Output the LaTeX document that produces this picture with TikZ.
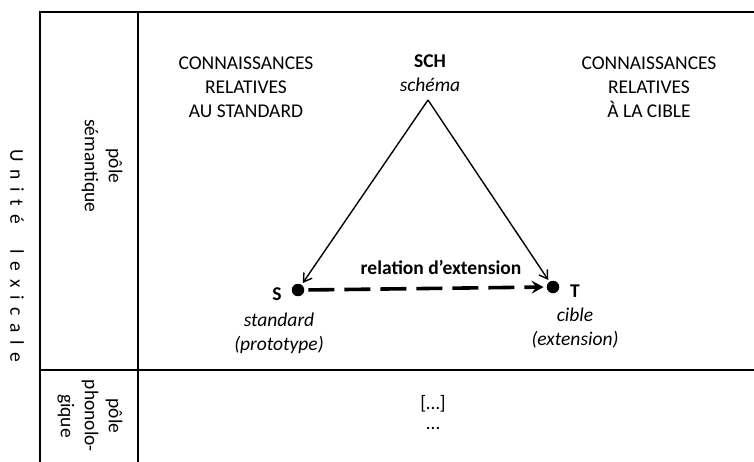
\documentclass[tikz,border=0pt]{standalone}
\usepackage{fontspec}
\setmainfont{Carlito}
\usepackage{tikz}
\usetikzlibrary{arrows.meta}

\newcommand{\lsp}{\hspace{0.4em}}

\begin{document}
\begin{tikzpicture}[x=1pt,y=-1pt,
	every node/.style={font=\fontsize{19.5}{24}\selectfont, align=center, inner sep=0pt},
	dot/.style={circle,fill=black,minimum size=12.5pt},
	frame/.style={line width=2.2pt,black},
	%every node/.style = {draw}
]
	\useasboundingbox (0,0) rectangle (754,462);

	\draw[frame] (754,12) -- (40,12) -- (40,462);
	\draw[frame] (138,12) -- (138,462);
	\draw[frame] (40,370) -- (754,370);

	\node[rotate=-90] at (17,256) (unite) {U\lsp n\lsp i\lsp t\lsp é\hspace{1.3em}l\lsp e\lsp x\lsp i\lsp c\lsp a\lsp l\lsp e};
	\node[rotate=-90] at (102,166) (semantique) {pôle\\sémantique};
	\node[rotate=-90] at (90,416) (phonologique) {pôle\\phonolo-\\gique};

	\node[] at (246,87) (standard) {CONNAISSANCES\\RELATIVES\\AU STANDARD};
	\node[] at (649,87) (cible) {CONNAISSANCES\\RELATIVES\\À LA CIBLE};

	\node[] at (430,73) (sch) {\textbf{SCH}\\\textit{schéma}};
	\coordinate (apex) at (428,100);

	\node[dot] at (298,290) (s) {};
	\node[dot] at (553,287) (t) {};
	\node[] at (277,294) (slabel) {\textbf{S}};
	\node[] at (575,291) (tlabel) {\textbf{T}};
	\node[] at (279,333) (stext) {\textit{standard}\\\textit{(prototype)}};
	\node[] at (575,328) (ttext) {\textit{cible}\\\textit{(extension)}};
	\node[] at (441,267) (relation) {\textbf{relation d’extension}};

	\draw[-{Straight Barb[length=8pt,width=10pt]},line width=1.4pt,black,shorten >=2pt] (apex) -- (s);
	\draw[-{Straight Barb[length=8pt,width=10pt]},line width=1.4pt,black,shorten >=2pt] (apex) -- (t);
	\draw[-{Stealth[length=12pt,width=13pt,inset=4.5pt]},line width=3.6pt,black,dash pattern=on 26pt off 10pt,shorten <=4pt,shorten >=3pt] (s.east) -- (t.west);

	\node[] at (433,404) (etc) {[…]};
	\node[] at (433,428) (dots) {…};
\end{tikzpicture}
\end{document}
